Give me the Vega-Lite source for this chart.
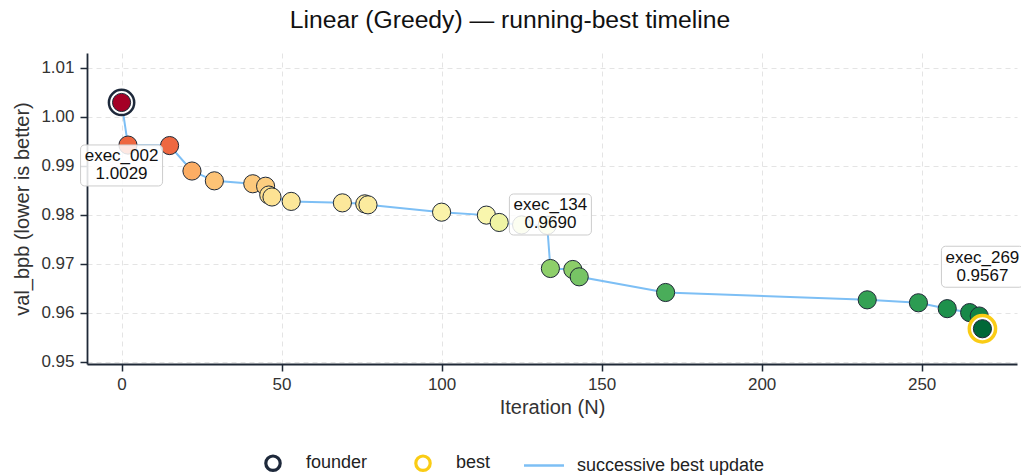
{
  "$schema": "https://vega.github.io/schema/vega-lite/v6.json",
  "width": 930,
  "height": 311,
  "autosize": {"type": "none"},
  "padding": {"left": 87, "top": 53, "right": 4, "bottom": 112},
  "background": "white",
  "config": {
    "font": "Liberation Sans",
    "view": {"stroke": null},
    "axis": {
      "domainColor": "#1f2937", "domainWidth": 1.8,
      "tickColor": "#1f2937", "tickWidth": 1.5, "tickSize": 7,
      "labelColor": "#333333", "labelFontSize": 17,
      "titleFontSize": 20, "titleFontWeight": "normal", "titleColor": "#333333",
      "gridColor": "#e4e4e4", "gridDash": [5, 4], "gridWidth": 1
    }
  },
  "title": {
    "text": "Linear (Greedy) — running-best timeline",
    "fontSize": 24.7, "fontWeight": "normal", "color": "#111111",
    "anchor": "middle", "dx": -42, "offset": 20
  },
  "data": {
    "values": [
      {"iter": 0, "val": 1.0029, "role": "founder", "note": "exec_002\n1.0029"},
      {"iter": 2, "val": 0.9942},
      {"iter": 15, "val": 0.9941},
      {"iter": 22, "val": 0.9889},
      {"iter": 29, "val": 0.9869},
      {"iter": 41, "val": 0.9863},
      {"iter": 45, "val": 0.9858},
      {"iter": 46, "val": 0.9840},
      {"iter": 47, "val": 0.9836},
      {"iter": 53, "val": 0.9827},
      {"iter": 69, "val": 0.9824},
      {"iter": 76, "val": 0.9822},
      {"iter": 77, "val": 0.9820},
      {"iter": 100, "val": 0.9805},
      {"iter": 114, "val": 0.9799},
      {"iter": 118, "val": 0.9784},
      {"iter": 125, "val": 0.9779},
      {"iter": 133, "val": 0.9778},
      {"iter": 134, "val": 0.9690, "note": "exec_134\n0.9690"},
      {"iter": 141, "val": 0.9688},
      {"iter": 143, "val": 0.9673},
      {"iter": 170, "val": 0.9641},
      {"iter": 233, "val": 0.9626},
      {"iter": 249, "val": 0.9620},
      {"iter": 258, "val": 0.9608},
      {"iter": 265, "val": 0.9600},
      {"iter": 268, "val": 0.9593},
      {"iter": 269, "val": 0.9567, "role": "best", "note": "exec_269\n0.9567"}
    ]
  },
  "encoding": {
    "x": {
      "field": "iter", "type": "quantitative",
      "scale": {"domain": [-10.8, 279.8], "nice": false, "zero": false},
      "axis": {"title": "Iteration (N)", "values": [0, 50, 100, 150, 200, 250], "labelPadding": 5, "titlePadding": 5}
    },
    "y": {
      "field": "val", "type": "quantitative",
      "scale": {"domain": [0.9495, 1.013], "nice": false, "zero": false},
      "axis": {"title": "val_bpb (lower is better)", "values": [0.95, 0.96, 0.97, 0.98, 0.99, 1.0, 1.01], "format": ".2f", "labelPadding": 6, "titlePadding": 8}
    }
  },
  "layer": [
    {
      "mark": {"type": "line", "strokeWidth": 2},
      "encoding": {
        "stroke": {
          "datum": "successive best update",
          "type": "nominal",
          "title": null,
          "scale": {"domain": ["founder", "best", "successive best update"], "range": ["#1e293b", "#facc15", "#7dbff5"]},
          "legend": {
            "title": null, "orient": "none", "legendX": 177, "legendY": 401,
            "direction": "horizontal", "symbolSize": 1600, "symbolStrokeWidth": 3,
            "labelFontSize": 18, "labelColor": "#222222", "labelOffset": 24, "columnPadding": 28,
            "labelLimit": 400,
            "encode": {
              "symbols": {
                "update": {
                  "shape": {"signal": "datum.value === 'successive best update' ? 'stroke' : 'M-1,0M0.36,0A0.36,0.36 0 1 1 -0.36,0A0.36,0.36 0 1 1 0.36,0ZM1,0'"},
                  "size": {"value": 1600},
                  "strokeWidth": {"signal": "datum.value === 'successive best update' ? 2.5 : 3.2"},
                  "fill": {"value": "transparent"},
                  "opacity": {"value": 1}
                }
              }
            }
          }
        }
      }
    },
    {
      "mark": {"type": "point", "filled": true, "size": 330, "opacity": 1, "stroke": "#1f2937", "strokeWidth": 1},
      "encoding": {
        "fill": {
          "field": "val", "type": "quantitative",
          "scale": {"scheme": "redyellowgreen", "reverse": true, "domain": [0.9567, 1.0029]},
          "legend": null
        }
      }
    },
    {
      "transform": [{"filter": "datum.role != null"}],
      "mark": {"type": "point", "filled": false, "fill": "white", "opacity": 1},
      "encoding": {
        "stroke": {"field": "role", "type": "nominal", "title": null},
        "size": {"condition": {"test": "datum.role === 'best'", "value": 690}, "value": 640},
        "strokeWidth": {"condition": {"test": "datum.role === 'best'", "value": 3.5}, "value": 2.5}
      }
    },
    {
      "transform": [{"filter": "datum.role != null"}],
      "mark": {"type": "point", "filled": true, "size": 330, "opacity": 1, "stroke": "#1f2937", "strokeWidth": 1},
      "encoding": {
        "fill": {"field": "val", "type": "quantitative", "legend": null}
      }
    },
    {
      "transform": [{"filter": "datum.note != null"}],
      "mark": {
        "type": "point", "filled": true, "opacity": 1,
        "shape": "M-0.9,-0.5H0.9A0.1,0.1 0 0 1 1,-0.4V0.4A0.1,0.1 0 0 1 0.9,0.5H-0.9A0.1,0.1 0 0 1 -1,0.4V-0.4A0.1,0.1 0 0 1 -0.9,-0.5Z",
        "size": 6724, "fill": "white", "fillOpacity": 0.85, "stroke": "#cccccc", "strokeWidth": 1,
        "yOffset": {"expr": "datum.iter === 0 ? 63 : datum.iter === 134 ? -54 : -62"}
      }
    },
    {
      "transform": [{"filter": "datum.note != null"}],
      "mark": {
        "type": "text", "lineBreak": "\n", "align": "center", "baseline": "middle",
        "fontSize": 17, "lineHeight": 18, "color": "#111111",
        "yOffset": {"expr": "datum.iter === 0 ? 54 : datum.iter === 134 ? -63 : -71"}
      },
      "encoding": {"text": {"field": "note", "type": "nominal"}}
    }
  ]
}
